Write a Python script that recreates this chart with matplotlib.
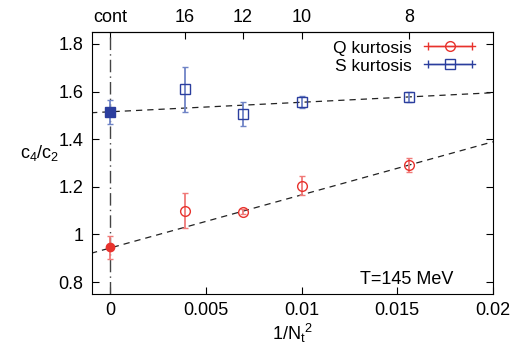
import matplotlib.pyplot as plt
from matplotlib.legend_handler import HandlerErrorbar

plt.rcParams['font.family'] = ['Liberation Sans', 'DejaVu Sans']
plt.rcParams['mathtext.fontset'] = 'custom'
plt.rcParams['mathtext.rm'] = 'Liberation Sans'
plt.rcParams['mathtext.it'] = 'Liberation Sans'

# lattice points, x = 1/Nt^2
nt = [16, 12, 10, 8]
x_pts = [1 / n**2 for n in nt]

q_val = [1.10, 1.095, 1.205, 1.29]
q_err = [0.075, 0.01, 0.04, 0.03]
q_cont = 0.945
q_cont_err = 0.048

s_val = [1.61, 1.505, 1.557, 1.577]
s_err = [0.095, 0.05, 0.025, 0.022]
s_cont = 1.515
s_cont_err = 0.05

# linear fits (intercept, slope)
q_fit = (0.943, 22.3)
s_fit = (1.515, 4.0)

top_ticks = [0] + x_pts
top_labels = ['cont', '16', '12', '10', '8']

red = '#e8322c'
red_err = '#f07a78'
blue = '#2b3e9e'
blue_err = '#6f84c6'
fs = 13

fig = plt.figure(figsize=(5.24, 3.52), dpi=100)
ax = fig.add_axes([0.1756, 0.165, 0.765, 0.744])

ax.axvline(0, color='#444444', lw=1, ls=(0, (9, 3, 1, 3)))

xs = [-0.001, 0.02]
ax.plot(xs, [q_fit[0] + q_fit[1] * x for x in xs], color='#222222', lw=0.9, ls=(0, (5, 4)))
ax.plot(xs, [s_fit[0] + s_fit[1] * x for x in xs], color='#222222', lw=0.9, ls=(0, (5, 4)))

ax.errorbar(x_pts, q_val, yerr=q_err, fmt='o', ms=7, mfc='none', mec=red, mew=1,
            ecolor=red_err, elinewidth=1.3, capsize=2)
ax.errorbar(x_pts, s_val, yerr=s_err, fmt='s', ms=7.5, mfc='none', mec=blue, mew=1,
            ecolor=blue_err, elinewidth=1.3, capsize=2)
ax.errorbar([0], [q_cont], yerr=[q_cont_err], fmt='o', ms=6, color=red,
            ecolor=red_err, elinewidth=1.3, capsize=2)
ax.errorbar([0], [s_cont], yerr=[s_cont_err], fmt='s', ms=7.5, color=blue,
            ecolor=blue_err, elinewidth=1.3, capsize=2)

# legend proxies in gnuplot style (horizontal bar through the marker)
hq = ax.errorbar([float('nan')], [float('nan')], xerr=[1], fmt='-o', ms=7, mfc='none',
                 mec=red, color=red, lw=1, ecolor=red, elinewidth=1, capsize=3)
hs = ax.errorbar([float('nan')], [float('nan')], xerr=[1], fmt='-s', ms=7.5, mfc='none',
                 mec=blue, color=blue, lw=1, ecolor=blue, elinewidth=1, capsize=3)

ax.set_xlim(-0.00095, 0.02)
ax.set_ylim(0.75, 1.85)
ax.set_xticks([0, 0.005, 0.01, 0.015, 0.02])
ax.set_xticklabels(['0', '0.005', '0.01', '0.015', '0.02'])
ax.set_yticks([0.8, 1, 1.2, 1.4, 1.6, 1.8])
ax.set_yticklabels(['0.8', '1', '1.2', '1.4', '1.6', '1.8'])
ax.tick_params(direction='in', labelsize=fs, length=5, right=True, pad=6)

sec = ax.secondary_xaxis('top')
sec.set_xticks(top_ticks)
sec.set_xticklabels(top_labels)
sec.tick_params(direction='in', labelsize=fs, length=5, pad=4)

ax.set_xlabel('1/N$_t$$^2$', fontsize=fs, labelpad=2)
ax.set_ylabel('c$_4$/c$_2$', fontsize=fs, rotation=0)
ax.yaxis.set_label_coords(-0.13, 0.5)

ax.text(0.0155, 0.81, 'T=145 MeV', fontsize=fs, ha='center', va='center')

ax.legend([hq, hs], ['Q kurtosis', 'S kurtosis'], loc='upper right', frameon=False,
          bbox_to_anchor=(0.986, 1.02), markerfirst=False, fontsize=12.6,
          handlelength=2.9, handleheight=1.0, borderaxespad=0.3, labelspacing=0.05,
          handletextpad=0.7,
          handler_map={type(hq): HandlerErrorbar(xerr_size=1.25)})

fig.savefig('out.png', dpi=100)
